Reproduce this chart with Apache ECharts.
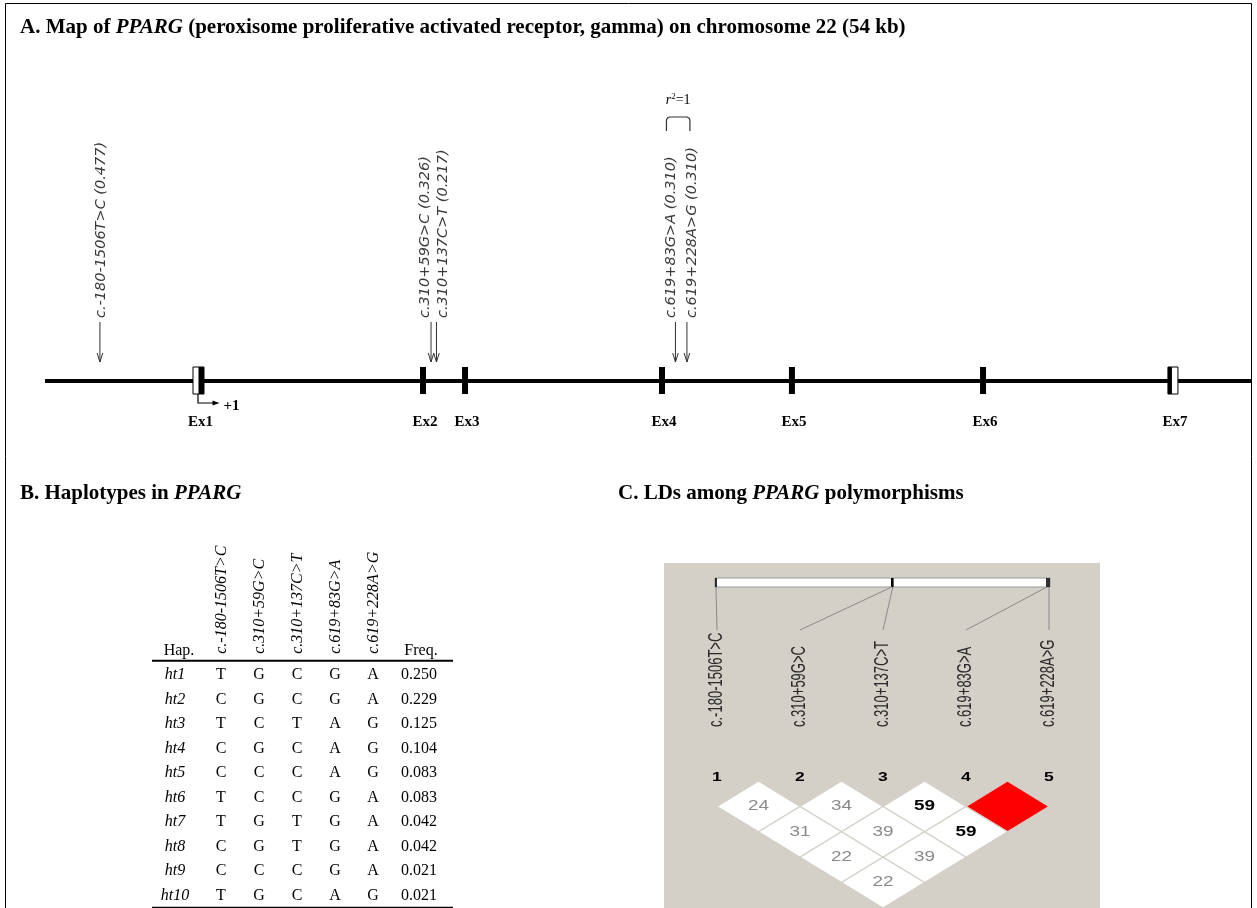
<!DOCTYPE html>
<html><head><meta charset="utf-8">
<script src="https://cdn.jsdelivr.net/npm/echarts@6.0.0/dist/echarts.min.js"></script>
<style>html,body{margin:0;padding:0;background:#fff}#c{width:1257px;height:908px}</style>
</head><body><div id="c"></div>
<script>
// ---------------- data ----------------
const exonNames = ['Ex1','Ex2','Ex3','Ex4','Ex5','Ex6','Ex7'];
const exonPos = [7.63, 18.79, 20.88, 30.67, 37.13, 46.63, 56.07];   // kb along map
const exonKind = ['utr5','cds','cds','cds','cds','cds','utr3'];
const snpNames = ['c.-180-1506T>C','c.310+59G>C','c.310+137C>T','c.619+83G>A','c.619+228A>G'];
const snpFreq = ['0.477','0.326','0.217','0.310','0.310'];
const snpPos = [2.73, 19.19, 19.46, 31.34, 31.91];                   // kb along map
const ldBarPos = [0, 0.528, 0.531, 0.994, 1.0];                       // relative position on LD bar
const haplotypes = ['ht1','ht2','ht3','ht4','ht5','ht6','ht7','ht8','ht9','ht10'];
const haploAlleles = [
  ['T','G','C','G','A'],
  ['C','G','C','G','A'],
  ['T','C','T','A','G'],
  ['C','G','C','A','G'],
  ['C','C','C','A','G'],
  ['T','C','C','G','A'],
  ['T','G','T','G','A'],
  ['C','G','T','G','A'],
  ['C','C','C','G','A'],
  ['T','G','C','A','G']
];
const haploFreq = ['0.250','0.229','0.125','0.104','0.083','0.083','0.042','0.042','0.021','0.021'];
const markerIndex = [1,2,3,4,5];
const ldPairs = [[1,2],[2,3],[3,4],[4,5],[1,3],[2,4],[3,5],[1,4],[2,5],[1,5]];
const ldValues = [24,34,59,100,31,39,59,22,39,22];

// ---------------- styles ----------------
const SERIF = '"Liberation Serif","Times New Roman",serif';
const SANS = '"Liberation Sans",Arial,sans-serif';
const DJV = '"DejaVu Sans",sans-serif';
const LDBG = '#D4D0C8';

function T(x, y, text, font, fill, o) {
  o = o || {};
  return {
    type: 'text', x: x, y: y,
    rotation: o.rotation || 0, scaleX: o.scaleX || 1, scaleY: o.scaleY || 1,
    style: { text: text, font: font, fill: fill || '#000',
      align: o.align || 'center', verticalAlign: o.va || 'middle', rich: o.rich }
  };
}
function L(x1, y1, x2, y2, stroke, w) {
  return { type: 'line', shape: { x1: x1, y1: y1, x2: x2, y2: y2 }, style: { stroke: stroke, lineWidth: w } };
}

// ---------------- series ----------------
const geneLine = {
  type: 'line', xAxisIndex: 0, yAxisIndex: 0, symbol: 'none', silent: true,
  data: [[0, 0], [60, 0]], lineStyle: { color: '#000', width: 4 }, z: 2
};

const exonSeries = {
  type: 'custom', xAxisIndex: 0, yAxisIndex: 0, z: 3,
  data: exonPos.map(p => [p, 0]),
  renderItem: function (params, api) {
    const i = params.dataIndex;
    const p = api.coord([api.value(0), 0]);
    const cx = p[0], y0 = p[1];
    const top = y0 - 14, h = 27;
    const kids = [];
    if (exonKind[i] === 'utr5') {
      kids.push({ type: 'rect', shape: { x: cx - 5.5, y: top, width: 11, height: h }, style: { fill: '#fff', stroke: '#000', lineWidth: 1 } });
      kids.push({ type: 'rect', shape: { x: cx, y: top, width: 5.5, height: h }, style: { fill: '#000' } });
      kids.push({ type: 'polyline', shape: { points: [[cx - 0.5, top + h], [cx - 0.5, y0 + 22], [cx + 16, y0 + 22]] }, style: { stroke: '#000', lineWidth: 1.2, fill: null } });
      kids.push({ type: 'polygon', shape: { points: [[cx + 14, y0 + 19.5], [cx + 21, y0 + 22], [cx + 14, y0 + 24.5]] }, style: { fill: '#000' } });
      kids.push(T(cx + 25, y0 + 25, '+1', 'bold 15px ' + SERIF, '#000', { align: 'left' }));
    } else if (exonKind[i] === 'utr3') {
      kids.push({ type: 'rect', shape: { x: cx - 5, y: top, width: 10, height: h }, style: { fill: '#fff', stroke: '#000', lineWidth: 1 } });
      kids.push({ type: 'rect', shape: { x: cx - 5, y: top, width: 4, height: h }, style: { fill: '#000' } });
    } else {
      kids.push({ type: 'rect', shape: { x: cx - 3, y: top, width: 6, height: h }, style: { fill: '#000' } });
    }
    kids.push(T(cx + 2, y0 + 41, exonNames[i], 'bold 15px ' + SERIF, '#000'));
    return { type: 'group', children: kids };
  }
};

const labelShift = [1.5, -6, 7, -4, 5];
const snpSeries = {
  type: 'custom', xAxisIndex: 0, yAxisIndex: 0, z: 3,
  data: snpPos.map(p => [p, 0]),
  renderItem: function (params, api) {
    const i = params.dataIndex;
    const p = api.coord([api.value(0), 0]);
    const x = p[0], y0 = p[1];
    return { type: 'group', children: [
      L(x, y0 - 59, x, y0 - 19, '#333', 1),
      { type: 'polyline', shape: { points: [[x - 2.8, y0 - 28], [x, y0 - 19], [x + 2.8, y0 - 28]] }, style: { stroke: '#333', lineWidth: 1, fill: null } },
      T(x + labelShift[i], y0 - 63, snpNames[i] + ' (' + snpFreq[i] + ')', 'italic 14.5px ' + DJV, '#3a3a3a',
        { rotation: Math.PI / 2, align: 'left' })
    ] };
  }
};

const bracketSeries = {
  type: 'custom', xAxisIndex: 0, yAxisIndex: 0, z: 3,
  data: [[snpPos[3], 0, snpPos[4]]],
  renderItem: function (params, api) {
    const a = api.coord([api.value(0), 0]);
    const b = api.coord([api.value(2), 0]);
    const y0 = a[1];
    const l = a[0] + labelShift[3] - 5, r = b[0] + labelShift[4] - 2;
    const yt = y0 - 264, yb = y0 - 250;
    return { type: 'group', children: [
      { type: 'polyline', shape: { points: [[l, yb], [l, yt + 3], [l + 1, yt + 1], [l + 3, yt], [r - 3, yt], [r - 1, yt + 1], [r, yt + 3], [r, yb]] },
        style: { stroke: '#333', lineWidth: 1.2, fill: null } },
      T((l + r) / 2, y0 - 281, '{i|r}{s|2}{n|=1}', '14px ' + SERIF, '#000', {
        rich: { i: { fontFamily: SERIF, fontStyle: 'italic', fontSize: 14 },
                s: { fontFamily: SERIF, fontSize: 9, verticalAlign: 'top', padding: [0, 0, 6, 0] },
                n: { fontFamily: SERIF, fontSize: 14 } } })
    ] };
  }
};

// table (B)
const cellData = [];
haploAlleles.forEach((row, r) => row.forEach((v, c) => cellData.push([c, r])));
const cellSeries = {
  type: 'custom', xAxisIndex: 1, yAxisIndex: 1, z: 3,
  data: cellData,
  renderItem: function (params, api) {
    const c = api.value(0), r = api.value(1);
    const p = api.coord([c, r]);
    return T(p[0], p[1], haploAlleles[r][c], '16px ' + SERIF, '#000');
  }
};
const hapSeries = {
  type: 'custom', xAxisIndex: 1, yAxisIndex: 1, z: 3,
  data: haplotypes.map((h, r) => [0, r]),
  renderItem: function (params, api) {
    const r = api.value(1);
    const p0 = api.coord([0, r]);
    const p4 = api.coord([4, r]);
    return { type: 'group', children: [
      T(p0[0] - 46, p0[1], haplotypes[r], 'italic 16px ' + SERIF, '#000'),
      T(p4[0] + 46, p4[1], haploFreq[r], '16px ' + SERIF, '#000')
    ] };
  }
};
const tableHeadSeries = {
  type: 'custom', xAxisIndex: 1, yAxisIndex: 1, z: 3,
  data: [[0, 0]],
  renderItem: function (params, api) {
    const kids = [];
    const first = api.coord([0, 0]);
    const last = api.coord([4, haplotypes.length - 1]);
    const x0 = first[0], x4 = api.coord([4, 0])[0];
    const yRow0 = first[1];
    snpNames.forEach((n, c) => {
      const p = api.coord([c, 0]);
      kids.push(T(p[0] + 1, yRow0 - 21, n, 'italic 16px ' + SERIF, '#000', { rotation: Math.PI / 2, align: 'left' }));
    });
    kids.push(T(x0 - 42, yRow0 - 24, 'Hap.', '16px ' + SERIF, '#000'));
    kids.push(T(x4 + 48, yRow0 - 24, 'Freq.', '16px ' + SERIF, '#000'));
    kids.push(L(x0 - 69, yRow0 - 14, x4 + 80, yRow0 - 14, '#000', 2));
    kids.push(L(x0 - 69, last[1] + 12, x4 + 80, last[1] + 12, '#000', 2));
    return { type: 'group', children: kids };
  }
};

// LD plot (C)
const ldSeries = {
  type: 'custom', xAxisIndex: 2, yAxisIndex: 2, z: 3,
  data: ldPairs.map((pr, k) => [(pr[0] + pr[1]) / 2, pr[1] - pr[0], ldValues[k]]),
  renderItem: function (params, api) {
    const m = api.value(0), d = api.value(1), v = api.value(2);
    const pts = [api.coord([m - 0.5, d]), api.coord([m, d - 1]), api.coord([m + 0.5, d]), api.coord([m, d + 1])];
    const c = api.coord([m, d]);
    const kids = [{ type: 'polygon', shape: { points: pts }, style: { fill: v >= 100 ? '#FF0000' : '#FFFFFF', stroke: LDBG, lineWidth: 1.2 } }];
    if (v < 100) {
      kids.push(T(c[0], c[1], String(v), (v >= 50 ? 'bold ' : '') + '14px ' + SANS, v >= 50 ? '#000' : '#8a8a8a', { scaleX: 1.35 }));
    }
    return { type: 'group', children: kids };
  }
};
const ldHeadSeries = {
  type: 'custom', xAxisIndex: 2, yAxisIndex: 2, z: 3,
  data: [[1, 0]],
  renderItem: function (params, api) {
    const kids = [];
    const a = api.coord([markerIndex[0], 0]);
    const b = api.coord([markerIndex[markerIndex.length - 1], 0]);
    const y0 = a[1];
    const barT = y0 - 203, barB = y0 - 194;
    kids.push({ type: 'rect', shape: { x: a[0] - 2, y: barT, width: b[0] - a[0] + 3, height: barB - barT }, style: { fill: '#fff', stroke: '#9a9a9a', lineWidth: 1 } });
    markerIndex.forEach((mi, i) => {
      const tx = a[0] - 1 + (b[0] - a[0] + 1) * ldBarPos[i];
      const mx = api.coord([mi, 0])[0];
      kids.push(L(tx, barT, tx, barB, '#000', 1.6));
      kids.push(L(tx, barB, mx, y0 - 151, '#8a8a8a', 1));
      kids.push(T(mx, y0 - 54, snpNames[i], '13px ' + SANS, '#2a2a2a', { rotation: Math.PI / 2, align: 'left', scaleY: 1.5 }));
      kids.push(T(mx, y0 - 4, String(mi), 'bold 13px ' + SANS, '#000', { scaleX: 1.35 }));
    });
    return { type: 'group', children: kids };
  }
};

const bold = { fontFamily: SERIF, fontWeight: 'bold', fontSize: 21, color: '#000' };
const boldIt = Object.assign({}, bold, { fontStyle: 'italic' });

const option = {
  animation: false,
  backgroundColor: '#fff',
  title: [
    { left: 15, top: 12, text: '{b|A. Map of }{i|PPARG}{b| (peroxisome proliferative activated receptor, gamma) on chromosome 22 (54 kb)}', textStyle: { rich: { b: bold, i: boldIt } } },
    { left: 15, top: 478, text: '{b|B. Haplotypes in }{i|PPARG}', textStyle: { rich: { b: bold, i: boldIt } } },
    { left: 613, top: 478, text: '{b|C. LDs among }{i|PPARG}{b| polymorphisms}', textStyle: { rich: { b: bold, i: boldIt } } }
  ],
  graphic: [
    { type: 'rect', z: 0, shape: { x: 5.5, y: 3.5, width: 1246, height: 1000 }, style: { fill: 'none', stroke: '#000', lineWidth: 1 } },
    { type: 'rect', z: 0, shape: { x: 664, y: 563, width: 436, height: 400 }, style: { fill: LDBG } }
  ],
  grid: [
    { left: 45, top: 81, width: 1207, height: 300 },
    { left: 202, top: 662.5, width: 190, height: 247 },
    { left: 634, top: 781, width: 498, height: 130 }
  ],
  xAxis: [
    { gridIndex: 0, type: 'value', min: 0, max: 60, show: false },
    { gridIndex: 1, type: 'category', data: snpNames, show: false },
    { gridIndex: 2, type: 'value', min: 0, max: 6, show: false }
  ],
  yAxis: [
    { gridIndex: 0, type: 'value', min: 0, max: 1, show: false },
    { gridIndex: 1, type: 'category', data: haplotypes, inverse: true, show: false },
    { gridIndex: 2, type: 'value', min: 0, max: 5, inverse: true, show: false }
  ],
  series: [geneLine, exonSeries, snpSeries, bracketSeries, cellSeries, hapSeries, tableHeadSeries, ldSeries, ldHeadSeries]
};
const chart = echarts.init(document.getElementById('c'));
chart.setOption(option);
</script>
</body></html>
